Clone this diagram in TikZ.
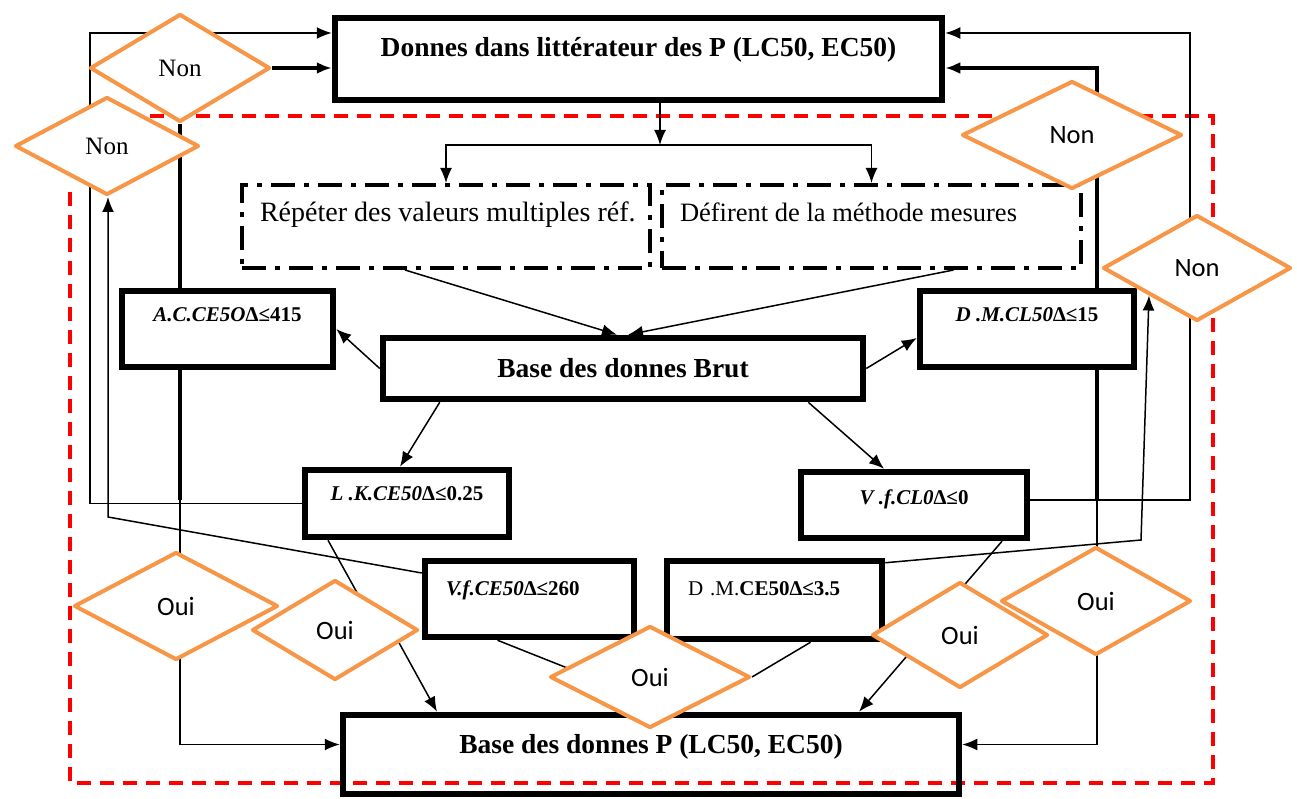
\documentclass[tikz,border=0pt]{standalone}
\usepackage{fontspec}
\setmainfont{Liberation Serif}
\newfontfamily\carlito{Carlito}
\usetikzlibrary{arrows.meta, shapes.geometric}
\definecolor{ouiorange}{RGB}{247,150,70}
\pgfdeclarelayer{bg}
\pgfsetlayers{bg,main}

\begin{document}
\begin{tikzpicture}[x = 1pt, y = -1pt,
			>={Latex[length=15pt, width=12pt]},
			box/.style = {draw, line width=6.5pt, fill=white, inner sep=0pt},
			bigbox/.style = {box, font=\bfseries\fontsize{27.5}{32}\selectfont, text height=18pt},
			crit/.style = {box, font=\bfseries\fontsize{21}{25}\selectfont, text height=14pt, text depth=30pt},
			source/.style = {draw, line width=4pt, dash pattern=on 24pt off 9pt on 5pt off 9pt, inner xsep=18pt, align=flush left, font=\fontsize{26.5}{32}\selectfont, text height=18pt, text depth=27pt, minimum height=83pt},
			answer/.style = {diamond, draw=ouiorange, line width=4pt, line join=round, fill=white, inner sep=0pt, font=\carlito\fontsize{26.5}{30}\selectfont},
			link/.style = {line width=1.5pt},
			heavy/.style = {line width=4pt},
			frame/.style = {red, line width=3.5pt, dash pattern=on 14pt off 9pt}
		]
			\useasboundingbox (0,0) rectangle (1297,799);

			\node[bigbox, minimum width=607pt, minimum height=82pt, text depth=22pt] (top) at (638.5,59) {Donnes dans littérateur des P (LC50, EC50)};
			\node[source, text width=372pt, font=\fontsize{28}{32}\selectfont] (rep) at (446,226.5) {\mbox{Répéter des valeurs multiples réf.}};
			\node[source, text width=383pt] (dif) at (871.5,226.5) {Défirent de la méthode mesures};
			\node[bigbox, minimum width=480pt, minimum height=61pt, text depth=0pt] (brut) at (623,368.5) {Base des donnes Brut};

			\node[crit, minimum width=211pt, minimum height=76pt] (acce) at (227.5,329) {{\itshape A.C.CE5O}∆≤415};
			\node[crit, minimum width=214pt, minimum height=76pt] (dmcl) at (1027,329) {{\itshape D .M.CL50}∆≤15};
			\node[crit, minimum width=204pt, minimum height=67pt, text depth=21pt] (lkce) at (407,503.5) {{\itshape L .K.CE50}∆≤0.25};
			\node[crit, minimum width=226pt, minimum height=66pt, text depth=16pt] (vfcl) at (914,505) {{\itshape V .f.CL0}∆≤0};
			\node[crit, minimum height=76pt, text width=167pt, inner xsep=21pt, align=left, text depth=22pt] (vfce) at (529.5,599) {{\itshape V.f.CE50}∆≤260};
			\node[crit, minimum height=78pt, text width=173pt, inner xsep=21pt, align=left, text depth=24pt] (dmce) at (774.5,600) {{\mdseries D .M.}CE50∆≤3.5};
			\node[bigbox, fill=none, minimum width=616pt, minimum height=79pt, text depth=20pt] (bottom) at (651,754.5) {Base des donnes P (LC50, EC50)};

			\node[answer, font=\fontsize{25}{30}\selectfont, minimum width=180pt, minimum height=108pt] (non1) at (180,68) {Non};
			\node[answer, font=\fontsize{25}{30}\selectfont, minimum width=184pt, minimum height=98pt] (non2) at (107,146) {Non};
			\node[answer, minimum width=220pt, minimum height=108pt] (non3) at (1072,135) {Non};
			\node[answer, minimum width=188pt, minimum height=106pt] (non4) at (1197,268) {Non};
			\node[answer, minimum width=204pt, minimum height=108pt] (oui1) at (176,606) {Oui};
			\node[answer, minimum width=166pt, minimum height=100pt] (oui2) at (335,630) {Oui};
			\node[answer, minimum width=200pt, minimum height=102pt] (oui3) at (650,677) {Oui};
			\node[answer, minimum width=176pt, minimum height=106pt] (oui4) at (960,635) {Oui};
			\node[answer, minimum width=190pt, minimum height=108pt] (oui5) at (1096,601) {Oui};

			\begin{pgfonlayer}{bg}
				\draw[frame] (150,116) -- (1213,116) -- (1213,783) -- (70,783) -- (70,190);

				\coordinate (split) at (660,145);
				\draw[link, ->] (top.south -| split) -- (split);
				\draw[link, ->] (split) -| (rep.north);
				\draw[link, ->] (split) -| (dif.north);
				\draw[link, ->] ([xshift=-41pt]rep.south) -- ([xshift=-6pt]brut.north);
				\draw[link, ->] ([xshift=82pt]dif.south) -- ([xshift=5pt]brut.north);

				\draw[link, ->] (brut.west) -- (acce.east);
				\draw[link, ->] (brut.east) -- ([yshift=-9pt]dmcl.west);
				\draw[link, ->] ([xshift=60pt]brut.south west) -- ([xshift=-7pt]lkce.north);
				\draw[link, ->] ([xshift=-58pt]brut.south east) -- ([xshift=-30pt]vfcl.north);

				\coordinate (lk) at (90,33);
				\draw[link, ->] (lkce.west) -| (lk) -- (lk -| top.west);
				\draw[heavy, ->] (non1.east) -- (non1.east -| top.west);
				\draw[heavy] (non1.south) -- (non1.south |- acce.north);
				\coordinate (lj) at (180,500);
				\draw[heavy] (non1.south |- acce.south) -- (lj);
				\draw[link] (lj) -- (lj |- oui1.center);
				\coordinate (lv) at (108,517);
				\draw[link, ->] ([yshift=26pt]vfce.west) -- (lv) -- (lv |- non2.south);
				\draw[link, ->] (lj |- oui1.center) |- ([yshift=10pt]bottom.west);

				\draw[link] ([xshift=-79pt]lkce.south) -- ([xshift=25pt, yshift=-20pt]oui2.north);
				\draw[link, ->] ([xshift=57pt]oui2.center) -- ([xshift=-214pt]bottom.north);
				\draw[link] ([xshift=-32pt]vfce.south) -- ([xshift=-60pt]oui3.center);
				\draw[link] ([xshift=36pt]dmce.south) -- (oui3.east);
				\draw[link] ([xshift=88pt]vfcl.south) -- ([yshift=-10pt]oui4.north);
				\draw[link, ->] ([xshift=-35pt]oui4.center) -- ([xshift=208pt]bottom.north);

				\draw[heavy, ->] ([xshift=70pt]dmcl.north) |- ([yshift=-9pt]top.east);
				\coordinate (rv) at (1190,33);
				\draw[link, ->] ([yshift=5pt]vfcl.east) -| (rv) -- (rv -| top.east);
				\coordinate (rj) at (1097,500);
				\draw[heavy] ([xshift=70pt]dmcl.south) -- (rj);
				\draw[link] (rj) -- (rj |- oui5.center);
				\coordinate (rd) at (1141,540);
				\draw[link, ->] ([yshift=-5pt]dmce.north east) -- (rd) -- (non4.south west);
				\draw[link, ->] (rj |- oui5.center) |- ([yshift=10pt]bottom.east);
			\end{pgfonlayer}
		\end{tikzpicture}
\end{document}
